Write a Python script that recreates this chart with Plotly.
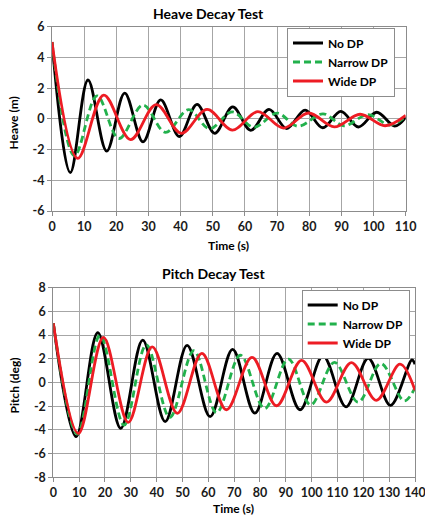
import plotly.graph_objects as go

# ---------------- Heave Decay Test (extrema) ----------------
heave_nodp_t = [0, 5.7, 11.2, 17.0, 22.6, 28.3, 33.8, 39.6, 45.1, 50.6, 56.2, 61.8, 67.5, 73.0, 78.7, 84.2, 89.8, 95.3, 101.0, 106.6, 110]
heave_nodp_y = [5.0, -3.5, 2.53, -2.1, 1.68, -1.5, 1.23, -1.15, 0.94, -0.94, 0.78, -0.75, 0.62, -0.63, 0.57, -0.58, 0.49, -0.53, 0.43, -0.47, 0.1]

heave_narrow_t = [0, 7.0, 14.0, 20.8, 28.3, 35.3, 42.5, 49.0, 56.0, 62.8, 70.0, 76.5, 84.3, 90.8, 98.3, 105.0, 110]
heave_narrow_y = [5.0, -2.4, 1.5, -1.28, 0.9, -0.88, 0.6, -0.65, 0.45, -0.55, 0.37, -0.48, 0.33, -0.45, 0.28, -0.4, 0.15]

heave_wide_t = [0, 8.0, 16.1, 24.4, 32.4, 40.2, 48.2, 56.1, 64.0, 72.0, 79.8, 87.8, 95.8, 103.6, 110]
heave_wide_y = [5.0, -2.57, 1.55, -1.35, 0.92, -0.94, 0.62, -0.73, 0.47, -0.6, 0.38, -0.52, 0.3, -0.45, 0.22]

# ---------------- Pitch Decay Test (extrema) ----------------
pitch_nodp_t = [0, 8.8, 17.2, 26.1, 34.6, 43.3, 51.8, 60.7, 69.4, 78.0, 86.6, 95.5, 104.4, 113.3, 121.9, 130.5, 138.8, 140]
pitch_nodp_y = [5.0, -4.57, 4.2, -3.87, 3.58, -3.3, 3.14, -2.88, 2.8, -2.58, 2.45, -2.3, 2.24, -2.05, 2.04, -1.93, 1.9, 1.55]

pitch_narrow_t = [0, 9.3, 18.1, 27.4, 36.0, 45.1, 54.4, 63.2, 72.4, 81.8, 91.0, 99.6, 108.8, 118.0, 126.8, 135.8, 140]
pitch_narrow_y = [5.0, -4.35, 4.0, -3.6, 3.18, -2.94, 2.68, -2.54, 2.3, -2.2, 1.98, -1.9, 1.7, -1.65, 1.6, -1.55, -0.45]

pitch_wide_t = [0, 9.7, 19.4, 29.0, 38.3, 48.0, 57.5, 67.0, 76.9, 86.4, 96.1, 105.7, 115.4, 125.0, 134.2, 140]
pitch_wide_y = [5.0, -4.3, 3.8, -3.36, 3.0, -2.6, 2.46, -2.3, 2.12, -1.96, 1.87, -1.65, 1.68, -1.5, 1.55, -0.65]

series_names = ["No DP", "Narrow DP", "Wide DP"]
heave_xticks = list(range(0, 111, 10))
pitch_xticks = list(range(0, 141, 10))
heave_yticks = [-6, -4, -2, 0, 2, 4, 6]
heave_ylabels = ["-6", "-4", "-2", "0", "2", "4", "6"]
pitch_yticks = [-8, -6, -4, -2, 0, 2, 4, 6, 8]
pitch_ylabels = ["-8", "-6", "-4", "-2", "0", "2", "4", "6", "8"]

W, H = 425, 519
FONT = "Lato"
colors = ["#000000", "#22b14c", "#ed1c24"]
dashes = ["solid", "7px,4px", "solid"]

fig = go.Figure()

heave = [(heave_nodp_t, heave_nodp_y), (heave_narrow_t, heave_narrow_y), (heave_wide_t, heave_wide_y)]
pitch = [(pitch_nodp_t, pitch_nodp_y), (pitch_narrow_t, pitch_narrow_y), (pitch_wide_t, pitch_wide_y)]

for i, (t, y) in enumerate(heave):
    fig.add_trace(go.Scatter(x=t, y=y, mode="lines", name=series_names[i],
                             line=dict(color=colors[i], width=2.8, dash=dashes[i], shape="spline", smoothing=1.0),
                             xaxis="x", yaxis="y", legend="legend"))
for i, (t, y) in enumerate(pitch):
    fig.add_trace(go.Scatter(x=t, y=y, mode="lines", name=series_names[i],
                             line=dict(color=colors[i], width=2.8, dash=dashes[i], shape="spline", smoothing=1.0),
                             xaxis="x2", yaxis="y2", legend="legend2"))

def px_x(p):
    return p / W

def px_y(p):
    return 1 - p / H

tickfont = dict(family=FONT, size=12.5, color="#1a1a1a", weight="bold")
common = dict(showgrid=True, gridcolor="#a6a6a6", gridwidth=1, showline=True, linecolor="#8c8c8c",
              linewidth=1, mirror=True, ticks="outside", ticklen=4, tickcolor="#8c8c8c",
              tickfont=tickfont, zeroline=False, fixedrange=True, automargin=False,
              ticklabeloverflow="allow")

legend_font = dict(family=FONT, size=12, color="#000", weight="bold")

fig.update_layout(
    width=W, height=H, autosize=False,
    margin=dict(l=0, r=0, t=0, b=0, pad=0),
    paper_bgcolor="white", plot_bgcolor="white",
    showlegend=True,
    xaxis=dict(domain=[px_x(52), px_x(405.7)], range=[0, 110], tickvals=heave_xticks, anchor="y", **common),
    yaxis=dict(domain=[px_y(211), px_y(26.7)], range=[-6, 6], tickvals=heave_yticks, ticktext=heave_ylabels, anchor="x", **common),
    xaxis2=dict(domain=[px_x(53.3), px_x(415)], range=[0, 140], tickvals=pitch_xticks, anchor="y2", **common),
    yaxis2=dict(domain=[px_y(477.3), px_y(287.7)], range=[-8, 8], tickvals=pitch_yticks, ticktext=pitch_ylabels, anchor="x2", **common),
    legend=dict(x=px_x(287), y=px_y(62), xanchor="left", yanchor="middle", bgcolor="white",
                bordercolor="#8c8c8c", borderwidth=1, font=legend_font, tracegroupgap=0),
    legend2=dict(x=px_x(301.7), y=px_y(289.5), xanchor="left", yanchor="top", bgcolor="white",
                 bordercolor="#8c8c8c", borderwidth=1, font=legend_font, tracegroupgap=0),
)

ann_font = dict(family=FONT, size=12, color="#000", weight="bold")
title_font = dict(family=FONT, size=14, color="#000", weight="bold")
annots = [
    ("Heave Decay Test", 208, 13.5, title_font, 0),
    ("Pitch Decay Test", 213, 273.5, title_font, 0),
    ("Time (s)", 228, 245, ann_font, 0),
    ("Time (s)", 233, 508, ann_font, 0),
    ("Heave (m)", 13.5, 123, ann_font, -90),
    ("Pitch (deg)", 13.5, 386, ann_font, -90),
]
for text, x, y, f, ang in annots:
    fig.add_annotation(text=text, x=px_x(x), y=px_y(y), xref="paper", yref="paper",
                       xanchor="center", yanchor="middle", showarrow=False, font=f, textangle=ang)

fig.write_html("out.html", config={"displayModeBar": False},
               post_script="document.documentElement.style.margin='0';document.body.style.margin='0';"
                           "document.body.style.overflow='hidden';")
